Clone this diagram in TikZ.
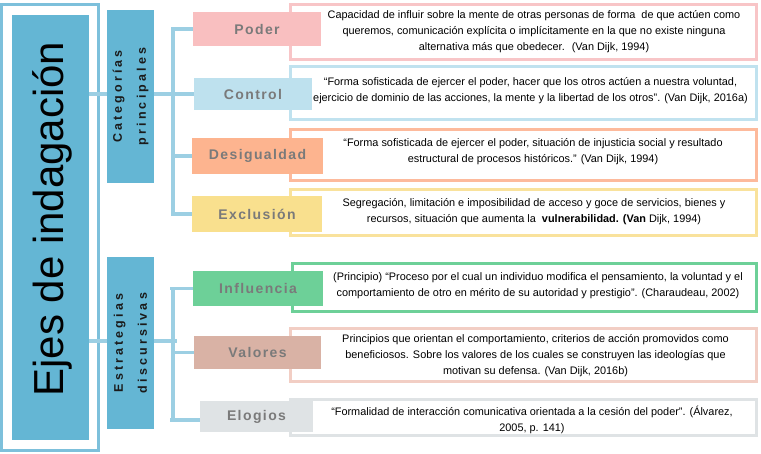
\documentclass[tikz,border=0pt]{standalone}
\usepackage{fontspec}
\setmainfont{Liberation Sans}
\newfontfamily\lblfont[LetterSpace=10]{Liberation Sans}
\newfontfamily\catfont[LetterSpace=25]{Liberation Sans}
\definecolor{mainfill}{HTML}{64B6D4}
\definecolor{frameblue}{HTML}{7DC0DB}
\definecolor{connblue}{HTML}{9CCFE3}
\definecolor{lbltext}{HTML}{7A7A7A}
\definecolor{cattext}{HTML}{1A1A1A}
\definecolor{poderF}{HTML}{F9BFC0}\definecolor{poderB}{HTML}{F8C5C7}
\definecolor{controlF}{HTML}{BEE1EE}\definecolor{controlB}{HTML}{C0E2EF}
\definecolor{desigF}{HTML}{FDB48F}\definecolor{desigB}{HTML}{FDBA9C}
\definecolor{exclF}{HTML}{F9E08E}\definecolor{exclB}{HTML}{F9E29C}
\definecolor{inflF}{HTML}{6DD098}\definecolor{inflB}{HTML}{6DD098}
\definecolor{valF}{HTML}{D9B2A5}\definecolor{valB}{HTML}{F2CEC4}
\definecolor{eloF}{HTML}{DFE3E5}\definecolor{eloB}{HTML}{DFE3E5}
\begin{document}
\begin{tikzpicture}[x=1pt,y=-1pt,
  bluebox/.style={fill=mainfill, draw=none, inner sep=0pt},
  lblbox/.style={draw=none, inner sep=0pt, text=lbltext, font=\lblfont\fontsize{14}{16}\selectfont\bfseries},
  descbox/.style={draw, line width=3pt, fill=white, inner sep=0pt, minimum width=466},
  desctext/.style={align=center, inner sep=0pt, font=\fontsize{10.9}{16}\selectfont},
  cattxt/.style={rotate=90, align=center, inner sep=0pt, text=cattext, font=\catfont\fontsize{12.5}{24}\selectfont\bfseries},
  conn/.style={draw=connblue, line width=3.5pt}
]
\useasboundingbox (0,0) rectangle (761,453);
% main
\draw[frameblue, line width=3pt] (1.5,4) rectangle (98.5,450);
\node[bluebox, minimum width=77, minimum height=425] (main) at (50.5,227.5) {};
\node[rotate=90, inner sep=0pt, font=\fontsize{42}{46}\selectfont] (maintext) at (52,219) {Ejes de indagación};
% category boxes
\node[bluebox, minimum width=47, minimum height=173] (cat1) at (130.5,96.5) {};
\node[bluebox, minimum width=47, minimum height=172] (cat2) at (130.5,343) {};
\node[cattxt] (cat1t) at (cat1) {Categorías\\principales};
\node[cattxt] (cat2t) at (cat2) {Estrategias\\discursivas};
% description boxes
\node[descbox, draw=poderB, minimum height=55] (d1) at (523.5,32) {};
\node[descbox, draw=controlB, minimum height=53] (d2) at (523.5,93) {};
\node[descbox, draw=desigB, minimum height=51] (d3) at (523.5,155) {};
\node[descbox, draw=exclB, minimum height=46] (d4) at (523.5,212.5) {};
\node[descbox, draw=inflB, minimum height=48, minimum width=464] (d5) at (524.5,287.5) {};
\node[descbox, draw=valB, minimum height=53] (d6) at (523.5,355) {};
\node[descbox, draw=eloB, minimum height=36] (d7) at (523.5,417.5) {};
% label boxes
\node[lblbox, fill=poderF, minimum width=128, minimum height=34] (poder) at (257,29) {Poder};
\node[lblbox, fill=controlF, minimum width=118, minimum height=32] (control) at (253,94) {Control};
\node[lblbox, fill=desigF, minimum width=131, minimum height=36] (desig) at (257.5,156) {Desigualdad};
\node[lblbox, fill=exclF, minimum width=130, minimum height=36] (excl) at (257,214) {Exclusión};
\node[lblbox, fill=inflF, minimum width=130, minimum height=35] (infl) at (258,288.5) {Influencia};
\node[lblbox, fill=valF, minimum width=127, minimum height=33] (val) at (257.5,352.5) {Valores};
\node[lblbox, fill=eloF, minimum width=113, minimum height=31] (elo) at (256.5,416.5) {Elogios};
% description texts
\node[desctext] (t1) at (534,32) {Capacidad de influir sobre la mente de otras personas de forma \ de que actúen como\\queremos, comunicación explícita o implícitamente en la que no existe ninguna\\alternativa más que obedecer. \ (Van Dijk, 1994)};
\node[desctext] (t2) at (530.5,91) {“Forma sofisticada de ejercer el poder, hacer que los otros actúen a nuestra voluntad,\\ejercicio de dominio de las acciones, la mente y la libertad de los otros”. (Van Dijk, 2016a)};
\node[desctext] (t3) at (533,152) {“Forma sofisticada de ejercer el poder, situación de injusticia social y resultado\\estructural de procesos históricos.” (Van Dijk, 1994)};
\node[desctext] (t4) at (534,211.5) {Segregación, limitación e imposibilidad de acceso y goce de servicios, bienes y\\recursos, situación que aumenta la \ \textbf{vulnerabilidad. (Van} Dijk, 1994)};
\node[desctext] (t5) at (538,286) {(Principio) “Proceso por el cual un individuo modifica el pensamiento, la voluntad y el\\comportamiento de otro en mérito de su autoridad y prestigio”. (Charaudeau, 2002)};
\node[desctext] (t6) at (535.5,356) {Principios que orientan el comportamiento, criterios de acción promovidos como\\beneficiosos. Sobre los valores de los cuales se construyen las ideologías que\\motivan su defensa. (Van Dijk, 2016b)};
\node[desctext] (t7) at (532,419.5) {“Formalidad de interacción comunicativa orientada a la cesión del poder”. (Álvarez,\\2005, p. 141)};
% connectors
\coordinate (b1) at (173,94);
\coordinate (b2) at (173,341);
\coordinate (b2bot) at (173,420);
\draw[conn] (main.east |- b1) -- (cat1.west |- b1);
\draw[conn] (main.east |- b2) -- (cat2.west |- b2);
\draw[conn] (cat1.east |- b1) -- (b1);
\draw[conn] (cat2.east |- b2) -- ([xshift=4]b2);
\draw[conn] (b1 |- poder.west) -- (b1 |- excl.west);
\draw[conn] ([xshift=-1.75]b1 |- poder.west) -- (poder.west);
\draw[conn] (b1 |- control.west) -- (control.west);
\draw[conn] (b1 |- desig.west) -- (desig.west);
\draw[conn] ([xshift=-1.75]b1 |- excl.west) -- (excl.west);
\draw[conn] (b2 |- infl.west) -- (b2bot);
\draw[conn] ([xshift=-3]b2 |- infl.west) -- (infl.west);
\draw[conn] (b2 |- val.west) -- (val.west);
\draw[conn] ([xshift=-3]b2bot) -- (elo.west |- b2bot);
\end{tikzpicture}
\end{document}
